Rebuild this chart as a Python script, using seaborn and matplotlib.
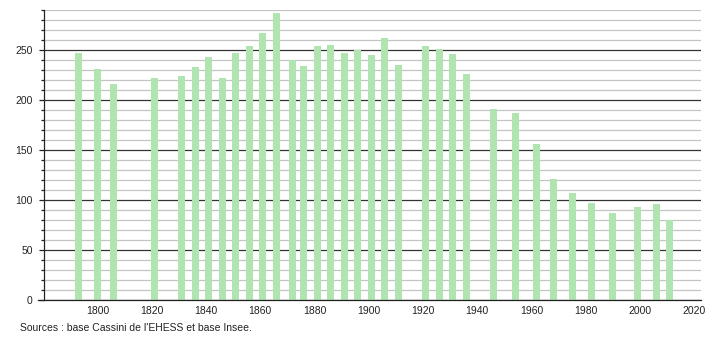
import matplotlib
matplotlib.use("Agg")
import matplotlib.pyplot as plt
import seaborn as sns
import pandas as pd
from matplotlib.ticker import MultipleLocator

years = [1793, 1800, 1806, 1821, 1831, 1836, 1841, 1846, 1851, 1856, 1861, 1866,
         1872, 1876, 1881, 1886, 1891, 1896, 1901, 1906, 1911, 1921, 1926, 1931,
         1936, 1946, 1954, 1962, 1968, 1975, 1982, 1990, 1999, 2006, 2011]
population = [247, 231, 216, 222, 224, 233, 243, 222, 247, 254, 267, 287,
              240, 234, 254, 255, 247, 250, 245, 262, 235, 254, 251, 246,
              226, 191, 187, 156, 121, 107, 97, 87, 93, 96, 80]
x_ticks = [1800, 1820, 1840, 1860, 1880, 1900, 1920, 1940, 1960, 1980, 2000, 2020]
y_ticks = [0, 50, 100, 150, 200, 250]
source_text = "Sources : base Cassini de l'EHESS et base Insee."

df = pd.DataFrame({"year": years, "population": population})

sns.set_theme(style="white")
plt.rcParams["font.family"] = ["Liberation Sans", "DejaVu Sans"]

W, H = 710, 340
fig = plt.figure(figsize=(W / 100, H / 100), dpi=100)
left, right, top, bottom = 44, 701, 10, 300
ax = fig.add_axes([left / W, 1 - bottom / H, (right - left) / W, (bottom - top) / H])

sns.barplot(data=df, x="year", y="population", native_scale=True, width=0.645,
            color="#b0e4b0", saturation=1, linewidth=0, ax=ax, zorder=3)

ax.set_xlim(1780.3, 2022.5)
ax.set_ylim(0, 290)
ax.set_xlabel("")
ax.set_ylabel("")

ax.set_xticks(x_ticks)
ax.set_xticklabels([str(t) for t in x_ticks])
ax.set_yticks(y_ticks)
ax.set_yticklabels([str(t) for t in y_ticks])
ax.yaxis.set_minor_locator(MultipleLocator(10))

ax.tick_params(axis="x", which="both", length=0, pad=4, labelsize=7.5, colors="#222222")
ax.tick_params(axis="y", which="major", length=3.6, width=0.9, pad=4.5, labelsize=7.5,
               left=True, colors="#222222")
ax.tick_params(axis="y", which="minor", length=2.0, width=0.9, left=True, color="#222222")

ax.set_axisbelow(True)
ax.grid(False)
ax.yaxis.grid(True, which="minor", color="#c4c4c4", linewidth=0.9)
ax.yaxis.grid(True, which="major", color="#333333", linewidth=0.9)

for s in ["top", "right"]:
    ax.spines[s].set_visible(False)
ax.spines["left"].set_color("#222222")
ax.spines["left"].set_linewidth(0.9)
ax.spines["bottom"].set_color("#222222")
ax.spines["bottom"].set_linewidth(0.9)
ax.spines["bottom"].set_bounds(1778.1, 2022.5)
ax.spines["bottom"].set_clip_on(False)
ax.spines["bottom"].set_zorder(5)

fig.text(20 / W, 1 - 328 / H, source_text, fontsize=7.5, color="#222222",
         ha="left", va="center")

fig.savefig("out.png", dpi=100, facecolor="white")
